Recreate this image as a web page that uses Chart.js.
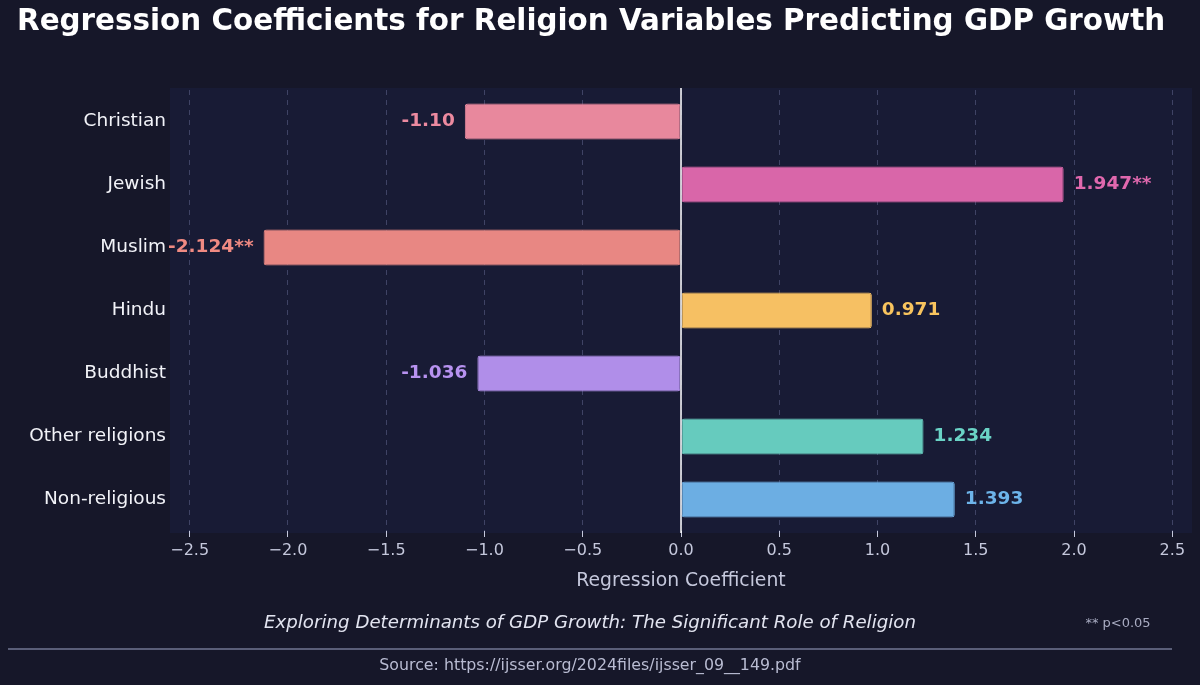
<!DOCTYPE html>
<html lang="en">
<head>
    <meta charset="UTF-8">
    <script src="https://cdn.jsdelivr.net/npm/chart.js@4.4.0/dist/chart.umd.min.js"></script>
    <title>Regression Coefficients</title>
    <style>
        body { margin: 0; background: #161729; }
        canvas { display: block; }
    </style>
</head>
<body>
    <canvas id="chart" width="1200" height="685"></canvas>
    <script>

        const religions = ['Christian', 'Jewish', 'Muslim', 'Hindu', 'Buddhist', 'Other religions', 'Non-religious'];
        const coefficients = [-1.10, 1.947, -2.124, 0.971, -1.036, 1.234, 1.393];
        const valueLabels = ['-1.10', '1.947**', '-2.124**', '0.971', '-1.036', '1.234', '1.393'];
        const barColors = ['#e8889d', '#d966a9', '#e88783', '#f6c063', '#b08ee9', '#66cbbe', '#6caee3'];
        const labelColors = ['#ec8aa0', '#e068ae', '#f08a82', '#f8c45e', '#b792f0', '#6ad3c6', '#6db4ea'];

        const FONT = '"DejaVu Sans", "Liberation Sans", sans-serif';

        // background, zero line, value labels and the texts around the chart
        const decor = {
            id: 'decor',
            beforeDraw(chart) {
                const c = chart.ctx, a = chart.chartArea;
                c.save();
                c.fillStyle = '#161729';
                c.fillRect(0, 0, chart.width, chart.height);
                c.fillStyle = '#181b35';
                c.fillRect(a.left, a.top - 2, a.right - a.left, a.bottom - a.top + 4);
                c.restore();
            },
            afterDatasetsDraw(chart) {
                const c = chart.ctx, a = chart.chartArea;
                const xs = chart.scales.x;
                const x0 = xs.getPixelForValue(0);
                c.save();
                c.strokeStyle = '#ffffff';
                c.lineWidth = 1.5;
                c.beginPath();
                c.moveTo(x0, a.top - 2);
                c.lineTo(x0, a.bottom + 2);
                c.stroke();

                const meta = chart.getDatasetMeta(0);
                c.font = 'bold 18.5px ' + FONT;
                c.textBaseline = 'middle';
                meta.data.forEach((bar, i) => {
                    const v = coefficients[i];
                    c.fillStyle = labelColors[i];
                    if (v >= 0) {
                        c.textAlign = 'left';
                        c.fillText(valueLabels[i], bar.x + 10, bar.y);
                    } else {
                        c.textAlign = 'right';
                        c.fillText(valueLabels[i], bar.x - 10, bar.y);
                    }
                });
                c.restore();
            },
            afterDraw(chart) {
                const c = chart.ctx;
                c.save();
                c.textBaseline = 'middle';
                c.fillStyle = '#ffffff';
                c.textAlign = 'left';
                c.font = 'bold 29.4px ' + FONT;
                c.fillText('Regression Coefficients for Religion Variables Predicting GDP Growth', 17, 22);

                c.textAlign = 'center';
                c.fillStyle = '#e2e4f0';
                c.font = 'italic 18.2px ' + FONT;
                c.fillText('Exploring Determinants of GDP Growth: The Significant Role of Religion', 590, 623);

                c.fillStyle = '#a9acc2';
                c.font = '13px ' + FONT;
                c.fillText('** p<0.05', 1118, 624);

                c.strokeStyle = '#5a5e78';
                c.lineWidth = 2;
                c.beginPath();
                c.moveTo(8, 649);
                c.lineTo(1172, 649);
                c.stroke();

                c.fillStyle = '#b9bcd2';
                c.font = '15.8px ' + FONT;
                c.fillText('Source: https://ijsser.org/2024files/ijsser_09__149.pdf', 590, 666);
                c.restore();
            }
        };

        const ctx = document.getElementById('chart').getContext('2d');
        const chart = new Chart(ctx, {
            type: 'bar',
            data: {
                labels: religions,
                datasets: [{
                    data: coefficients,
                    backgroundColor: barColors,
                    borderColor: barColors,
                    borderWidth: 1,
                    borderRadius: 3,
                    borderSkipped: false,
                    barPercentage: 0.57,
                    categoryPercentage: 1
                }]
            },
            options: {
                indexAxis: 'y',
                responsive: false,
                animation: false,
                layout: {
                    padding: { top: 90, right: 8, bottom: 89, left: 0 }
                },
                plugins: {
                    legend: { display: false },
                    tooltip: { enabled: false }
                },
                scales: {
                    x: {
                        min: -2.6,
                        max: 2.6,
                        afterFit: s => { s.height = 65; },
                        grid: {
                            color: 'rgba(110, 118, 160, 0.45)',
                            lineWidth: 1,
                            tickLength: 6,
                            tickColor: '#c5c8dc',
                            tickBorderDash: []
                        },
                        border: { display: false, dash: [5, 5] },
                        ticks: {
                            stepSize: 0.5,
                            includeBounds: false,
                            color: '#c5c8dc',
                            padding: 4,
                            font: { family: FONT, size: 16 },
                            callback: v => (v < 0 ? '\u2212' : '') + Math.abs(v).toFixed(1)
                        },
                        title: {
                            display: true,
                            text: 'Regression Coefficient',
                            color: '#c5c8dc',
                            font: { family: FONT, size: 18.8 },
                            padding: { top: 4 }
                        }
                    },
                    y: {
                        afterFit: s => { s.width = 170; },
                        grid: { display: false, drawTicks: false },
                        border: { display: false },
                        ticks: {
                            color: '#f2f3f8',
                            padding: 4,
                            font: { family: FONT, size: 18.5 }
                        }
                    }
                }
            },
            plugins: [decor]
        });

    </script>
</body>
</html>
